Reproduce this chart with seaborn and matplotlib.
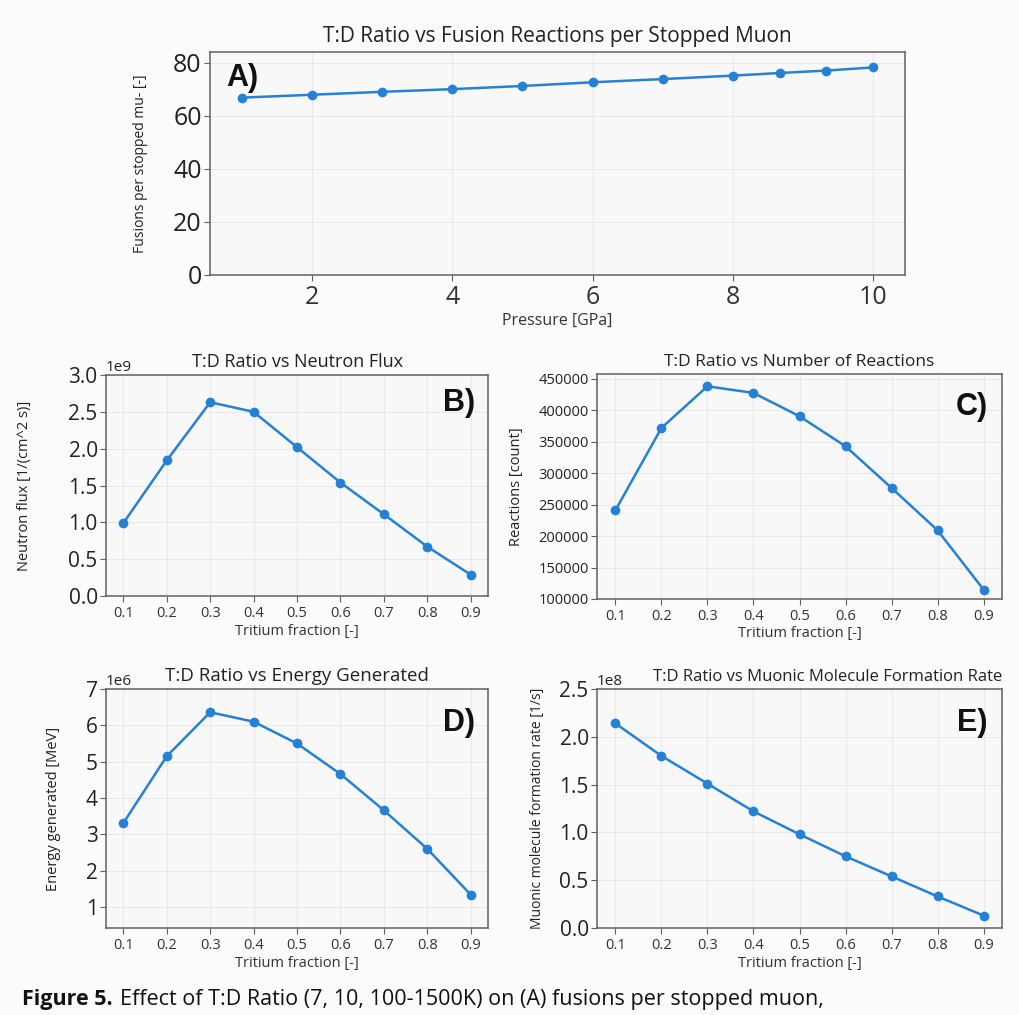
import numpy as np
import pandas as pd
import matplotlib
matplotlib.use("Agg")
import matplotlib.pyplot as plt
import seaborn as sns

# ---- data ----
pressure = [1, 2, 3, 4, 5, 6, 7, 8, 8.67, 9.33, 10]
fusions_per_muon = [66.8, 67.9, 69.0, 70.0, 71.2, 72.6, 73.8, 75.1, 76.1, 77.0, 78.2]

tritium_fraction = [0.1, 0.2, 0.3, 0.4, 0.5, 0.6, 0.7, 0.8, 0.9]
neutron_flux = [0.99e9, 1.84e9, 2.63e9, 2.50e9, 2.02e9, 1.54e9, 1.11e9, 0.67e9, 0.29e9]
reactions = [240900, 371700, 437900, 427300, 390300, 342600, 276400, 209100, 114800]
energy = [3.31e6, 5.15e6, 6.36e6, 6.10e6, 5.50e6, 4.66e6, 3.66e6, 2.60e6, 1.34e6]
formation_rate = [2.14e8, 1.80e8, 1.51e8, 1.22e8, 0.98e8, 0.75e8, 0.54e8, 0.33e8, 0.13e8]

ticks_A_x = [2, 4, 6, 8, 10]
ticks_A_y = [0, 20, 40, 60, 80]
ticks_B_y = [0, 0.5e9, 1.0e9, 1.5e9, 2.0e9, 2.5e9, 3.0e9]
ticks_C_y = [100000, 150000, 200000, 250000, 300000, 350000, 400000, 450000]
ticks_D_y = [1e6, 2e6, 3e6, 4e6, 5e6, 6e6, 7e6]
ticks_E_y = [0, 0.5e8, 1.0e8, 1.5e8, 2.0e8, 2.5e8]

sns.set_theme(style="whitegrid")
plt.rcParams['font.family'] = ['Open Sans', 'DejaVu Sans']

W, H = 1020, 1015
fig = plt.figure(figsize=(W / 100, H / 100), dpi=100, facecolor="#fbfbfb")

LINE = "#2581d6"
AX_FC = "#f8f8f8"
LETTER_FONT = ['Liberation Sans', 'DejaVu Sans']


def add_ax(left, top, right, bottom):
    return fig.add_axes([left / W, 1 - bottom / H, (right - left) / W, (bottom - top) / H])


def style(ax, ysize, xsize):
    ax.set_facecolor(AX_FC)
    for s in ax.spines.values():
        s.set_color("#606060")
        s.set_linewidth(1.1)
    ax.grid(True, color="#e9e9e9", linewidth=0.8)
    ax.tick_params(axis="y", labelsize=ysize, length=4, width=0.8, color="#606060",
                   labelcolor="#222222", pad=2, left=True)
    ax.tick_params(axis="x", labelsize=xsize, length=4, width=0.8, color="#606060",
                   labelcolor="#333333", pad=3, bottom=True)


def draw(ax, x, y):
    df = pd.DataFrame({"x": x, "y": y})
    sns.lineplot(data=df, x="x", y="y", ax=ax, color=LINE, marker="o", markersize=7,
                 markeredgewidth=0, linewidth=1.8)


def letter(ax, s, x, y, ha):
    ax.text(x, y, s, transform=ax.transAxes, fontsize=22, fontweight="bold",
            va="top", ha=ha, color="#111111", family=LETTER_FONT)


# ---- Panel A ----
axA = add_ax(210, 52, 905, 275)
draw(axA, pressure, fusions_per_muon)
style(axA, 18, 18)
axA.set_ylim(0, 84)
axA.set_xticks(ticks_A_x)
axA.set_yticks(ticks_A_y)
axA.set_title("T:D Ratio vs Fusion Reactions per Stopped Muon", fontsize=15, pad=7, color="#222222")
axA.set_xlabel("Pressure [GPa]", fontsize=11.5, labelpad=2, color="#333333")
axA.set_ylabel("Fusions per stopped mu- [-]", fontsize=10, labelpad=18, color="#222222")
letter(axA, "A)", 0.024, 0.95, "left")

# ---- Panel B ----
axB = add_ax(106, 375, 488, 596)
draw(axB, tritium_fraction, neutron_flux)
style(axB, 15, 10.5)
axB.set_ylim(0, 3.0e9)
axB.set_yticks(ticks_B_y)
axB.set_xticks(tritium_fraction)
axB.set_title("T:D Ratio vs Neutron Flux", fontsize=13, pad=6, color="#222222")
axB.set_xlabel("Tritium fraction [-]", fontsize=10.5, labelpad=2, color="#333333")
axB.set_ylabel("Neutron flux [1/(cm^2 s)]", fontsize=10.5, labelpad=26, color="#222222")
axB.yaxis.get_offset_text().set_fontsize(11)
letter(axB, "B)", 0.965, 0.94, "right")

# ---- Panel C ----
axC = add_ax(597, 374, 1002, 599)
draw(axC, tritium_fraction, reactions)
style(axC, 10.5, 10.5)
axC.set_ylim(100000, 457400)
axC.set_yticks(ticks_C_y)
axC.ticklabel_format(axis="y", style="plain", useOffset=False)
axC.set_xticks(tritium_fraction)
axC.set_title("T:D Ratio vs Number of Reactions", fontsize=12.5, pad=6, color="#222222")
axC.set_xlabel("Tritium fraction [-]", fontsize=10.5, labelpad=2, color="#333333")
axC.set_ylabel("Reactions [count]", fontsize=10.5, labelpad=10, color="#222222")
letter(axC, "C)", 0.965, 0.92, "right")

# ---- Panel D ----
axD = add_ax(106, 689, 488, 928)
draw(axD, tritium_fraction, energy)
style(axD, 15, 10.5)
axD.set_ylim(0.42e6, 7.0e6)
axD.set_yticks(ticks_D_y)
axD.set_xticks(tritium_fraction)
axD.set_title("T:D Ratio vs Energy Generated", fontsize=13.5, pad=6, color="#222222")
axD.set_xlabel("Tritium fraction [-]", fontsize=10.5, labelpad=2, color="#333333")
axD.set_ylabel("Energy generated [MeV]", fontsize=10.5, labelpad=18, color="#222222")
axD.yaxis.get_offset_text().set_fontsize(11)
letter(axD, "D)", 0.965, 0.92, "right")

# ---- Panel E ----
axE = add_ax(597, 689, 1002, 928)
draw(axE, tritium_fraction, formation_rate)
style(axE, 15, 10.5)
axE.set_ylim(0, 2.5e8)
axE.set_yticks(ticks_E_y)
axE.set_xticks(tritium_fraction)
axE.set_title("T:D Ratio vs Muonic Molecule Formation Rate", fontsize=12, pad=6,
              color="#222222", loc="right")
axE.set_xlabel("Tritium fraction [-]", fontsize=10.5, labelpad=2, color="#333333")
axE.set_ylabel("Muonic molecule formation rate [1/s]", fontsize=10, labelpad=10, color="#222222")
axE.yaxis.get_offset_text().set_fontsize(11)
letter(axE, "E)", 0.965, 0.92, "right")

for ax in (axB, axC, axD, axE):
    ax.set_xlim(0.06, 0.94)

# ---- caption ----
cap_top = 1 - 989 / H
t1 = fig.text(22 / W, cap_top, "Figure 5.", fontsize=15.5, fontweight="bold",
              va="top", ha="left", color="#111111")
fig.canvas.draw()
bb = t1.get_window_extent(renderer=fig.canvas.get_renderer())
fig.text((bb.x1 + 7) / W, cap_top,
         "Effect of T:D Ratio (7, 10, 100-1500K) on (A) fusions per stopped muon,",
         fontsize=15.5, va="top", ha="left", color="#111111")

fig.savefig("out.png", dpi=100, facecolor=fig.get_facecolor())
